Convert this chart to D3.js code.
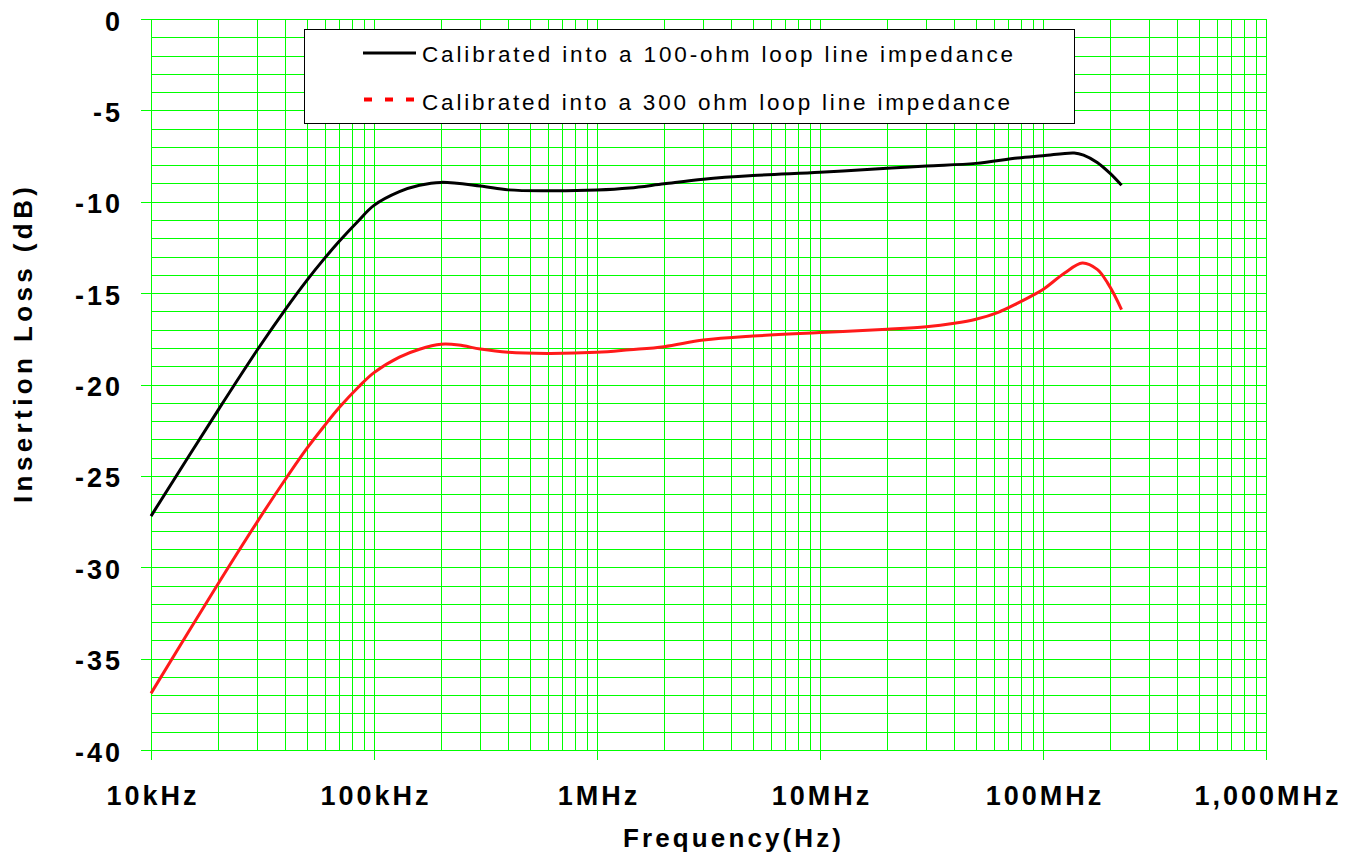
<!DOCTYPE html>
<html lang="en">
<head>
<meta charset="UTF-8">
<title>Insertion Loss</title>
<script src="https://d3js.org/d3.v7.min.js"></script>
<style>
    body { margin: 0; background: #fff; }
    text { font-family: "Liberation Sans", Arial, Helvetica, sans-serif; }
    .tick_lbl { font-size: 27px; font-weight: bold; }
    .title { font-size: 26px; font-weight: bold; }
    .legend_text { font-size: 22.5px; }
</style>
</head>
<body>
<svg width="1352" height="853"></svg>
<script>
    // frequencies (Hz) and insertion loss (dB)
    const freq100 = [1e4, 2e4, 3e4, 4e4, 5e4, 6e4, 7e4, 8.5e4, 1e5, 1.3e5, 1.6e5, 2e5, 3e5, 4e5, 6e5,
        1e6, 1.4e6, 2e6, 3e6, 5e6, 1e7, 2e7, 3e7, 5e7, 7.7e7, 1e8, 1.38e8, 1.52e8, 1.75e8, 2e8, 2.25e8];
    const loss100 = [-27.2, -21.4, -18.1, -15.9, -14.3, -13.1, -12.15, -11.05, -10.2, -9.45, -9.1, -8.94, -9.14, -9.35, -9.4,
        -9.36, -9.25, -9.02, -8.77, -8.57, -8.39, -8.17, -8.04, -7.9, -7.6, -7.48, -7.33, -7.45, -7.85, -8.45, -9.1];

    const freq300 = [1e4, 2e4, 3e4, 4e4, 5e4, 6e4, 7e4, 8.5e4, 1e5, 1.3e5, 1.6e5, 2e5, 2.4e5, 3e5, 4e5, 6e5,
        1e6, 1.4e6, 2e6, 3e6, 5e6, 1e7, 2e7, 3e7, 4e7, 5e7, 6.3e7, 7.7e7, 8.9e7, 1e8, 1.25e8, 1.5e8, 1.75e8, 1.95e8, 2.25e8];
    const loss300 = [-36.9, -30.9, -27.5, -25.2, -23.5, -22.25, -21.25, -20.15, -19.35, -18.5, -18.07, -17.8, -17.84, -18.06, -18.24, -18.3,
        -18.24, -18.1, -17.93, -17.57, -17.35, -17.16, -16.98, -16.84, -16.65, -16.43, -16.05, -15.55, -15.15, -14.8, -13.9, -13.35, -13.7, -14.45, -15.9];

    const xTickVals = [1e4, 1e5, 1e6, 1e7, 1e8, 1e9];
    const xTickLabels = ["10kHz", "100kHz", "1MHz", "10MHz", "100MHz", "1,000MHz"];
    const yTickVals = [-40, -35, -30, -25, -20, -15, -10, -5, 0];
    const seriesNames = ["Calibrated into a 100-ohm loop line impedance",
                         "Calibrated into a 300 ohm loop line impedance"];

    const svg = d3.select("svg");
    const pLeft = 151, pRight = 1266, pTop = 19, pBottom = 750;
    const grid = "#00ff00";

    const x = d3.scaleLog().domain([1e4, 1e9]).range([pLeft, pRight]);
    const y = d3.scaleLinear().domain([-40, 0]).range([pBottom, pTop]);

    // minor grid values
    let xMinor = [];
    for (let e = 4; e < 9; e++)
        for (let k = 1; k < 10; k++) xMinor.push(k * Math.pow(10, e));
    xMinor.push(1e9);
    const yMinor = d3.range(-40, 1, 1);

    svg.append("g")
        .attr("transform", `translate(0,${pBottom})`)
        .call(d3.axisBottom(x).tickValues(xMinor).tickSize(-(pBottom - pTop)).tickFormat(""))
        .call(g => g.select(".domain").remove())
        .call(g => g.selectAll("line").attr("stroke", grid).attr("shape-rendering", "crispEdges"));

    svg.append("g")
        .attr("transform", `translate(${pLeft},0)`)
        .call(d3.axisLeft(y).tickValues(yMinor).tickSize(-(pRight - pLeft)).tickFormat(""))
        .call(g => g.select(".domain").remove())
        .call(g => g.selectAll("line").attr("stroke", grid).attr("shape-rendering", "crispEdges"));

    // major ticks + labels
    svg.append("g")
        .attr("transform", `translate(0,${pBottom})`)
        .call(d3.axisBottom(x).tickValues(xTickVals).tickSize(10).tickPadding(26)
            .tickFormat((d, i) => xTickLabels[i]))
        .call(g => g.select(".domain").attr("stroke", grid))
        .call(g => g.selectAll("line").attr("stroke", grid).attr("shape-rendering", "crispEdges"))
        .call(g => g.selectAll("text").attr("class", "tick_lbl").attr("fill", "#000")
            .attr("letter-spacing", "3px").attr("dx", "1.5px"));

    svg.append("g")
        .attr("transform", `translate(${pLeft},0)`)
        .call(d3.axisLeft(y).tickValues(yTickVals).tickSize(10).tickPadding(18)
            .tickFormat(d => String(d)))
        .call(g => g.select(".domain").attr("stroke", grid))
        .call(g => g.selectAll("line").attr("stroke", grid).attr("shape-rendering", "crispEdges"))
        .call(g => g.selectAll("text").attr("class", "tick_lbl").attr("fill", "#000")
            .attr("letter-spacing", "3px").attr("dy", "11px"));
    svg.selectAll("g").attr("font-size", null).attr("font-family", null);

    // curves
    const line = d3.line()
        .x(d => x(d[0]))
        .y(d => y(d[1]))
        .curve(d3.curveCatmullRom.alpha(0.5));

    svg.append("path")
        .datum(d3.zip(freq300, loss300))
        .attr("d", line)
        .attr("fill", "none")
        .attr("stroke", "#ff1a1a")
        .attr("stroke-width", 3);

    svg.append("path")
        .datum(d3.zip(freq100, loss100))
        .attr("d", line)
        .attr("fill", "none")
        .attr("stroke", "#000")
        .attr("stroke-width", 3);

    // legend
    const lg = svg.append("g");
    lg.append("rect")
        .attr("x", 304.5).attr("y", 29.5).attr("width", 770).attr("height", 94)
        .attr("fill", "#fff").attr("stroke", "#000").attr("stroke-width", 1);
    lg.append("line").attr("x1", 363).attr("x2", 416).attr("y1", 53).attr("y2", 53)
        .attr("stroke", "#000").attr("stroke-width", 3);
    lg.append("line").attr("x1", 364).attr("x2", 416).attr("y1", 99.5).attr("y2", 99.5)
        .attr("stroke", "#ff0000").attr("stroke-width", 4).attr("stroke-dasharray", "8,13");
    lg.append("text").attr("class", "legend_text").attr("x", 422).attr("y", 62)
        .attr("textLength", 591).attr("lengthAdjust", "spacing").text(seriesNames[0]);
    lg.append("text").attr("class", "legend_text").attr("x", 422).attr("y", 110)
        .attr("textLength", 588).attr("lengthAdjust", "spacing").text(seriesNames[1]);

    // axis titles
    svg.append("text").attr("class", "title")
        .attr("x", 623).attr("y", 847)
        .attr("textLength", 218).attr("lengthAdjust", "spacing")
        .text("Frequency(Hz)");

    svg.append("text").attr("class", "title")
        .attr("transform", "translate(32,503) rotate(-90)")
        .attr("textLength", 316).attr("lengthAdjust", "spacing")
        .text("Insertion Loss (dB)");
</script>
</body>
</html>
